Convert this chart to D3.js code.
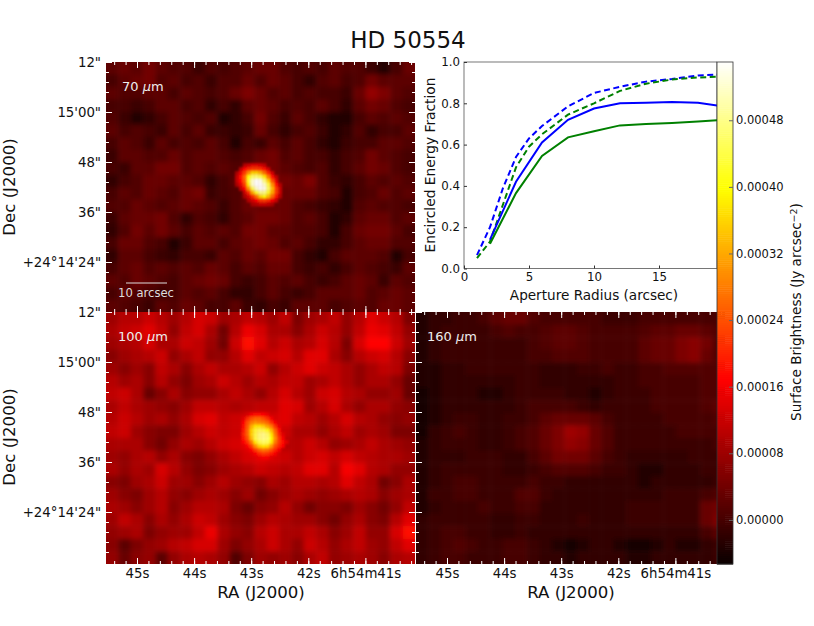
<!DOCTYPE html>
<html>
<head>
<meta charset="utf-8">
<script src="https://d3js.org/d3.v7.min.js"></script>
<style>
  html, body { margin: 0; padding: 0; background: #fff; }
  text { font-family: "DejaVu Sans", sans-serif; fill: #111; }
</style>
</head>
<body>
<svg id="chart" width="814" height="626"></svg>
<script>
// all map values are surface brightness in units of 1e-5 Jy arcsec^-2
const grid70 = [
[2,3,2,4,2,1,1,-1,1,0,1,2,3,3,1,0,1,0,2,1,1,-1,-3,0,3],
[0,2,3,4,1,2,0,1,-1,1,1,3,1,3,2,0,-2,1,2,0,1,4,2,2,2],
[2,1,1,2,2,0,2,1,0,1,3,5,3,1,2,0,1,0,0,-1,3,7,5,2,1],
[0,0,-1,0,2,2,0,1,-2,0,-2,2,3,2,0,1,0,2,0,-2,2,4,3,1,0],
[1,-1,-3,-2,0,2,1,0,1,-3,-2,0,4,1,-1,2,0,-2,-3,-3,0,2,1,2,1],
[2,0,1,0,-1,2,0,2,-1,-1,-2,-1,3,0,-2,0,1,-1,-3,-2,1,-2,0,0,2],
[0,2,1,-1,2,0,1,0,2,0,-3,0,-1,2,0,2,0,-2,-3,-1,0,0,2,2,1],
[-1,2,2,1,1,3,1,2,2,1,0,1,3,4,1,2,0,0,-2,0,1,4,2,1,0],
[0,-1,2,2,4,4,1,2,1,2,1,2,4,4,2,1,0,1,-2,0,2,4,3,1,0],
[-2,0,1,3,3,2,2,1,-2,0,2,3,4,4,4,3,5,1,-1,-2,0,2,1,2,1],
[0,2,1,3,2,1,3,4,-1,0,1,3,3,3,3,3,3,1,0,-3,0,1,3,1,2],
[1,1,3,2,1,2,3,2,1,-1,1,3,3,3,3,1,0,-1,-2,-3,1,2,1,1,0],
[-1,2,3,3,4,1,-2,1,0,-2,1,2,4,4,3,1,2,0,-3,-2,2,3,3,1,2],
[-2,1,4,2,4,2,0,2,1,2,1,4,4,2,2,1,1,0,-3,0,3,4,4,2,0],
[0,3,3,1,0,-3,-1,2,2,0,2,3,4,3,1,2,0,-2,-2,0,2,3,3,1,1],
[-2,2,2,0,-1,-2,0,0,-1,2,1,3,2,4,4,0,-2,-3,0,2,2,2,1,-3,0],
[0,2,3,1,2,1,2,1,3,2,0,2,1,3,3,0,-1,0,-2,0,2,1,0,-1,2],
[2,1,3,2,1,0,2,3,4,3,0,-1,0,2,1,2,0,-1,0,2,3,2,-1,2,1],
[0,2,1,0,-1,0,2,1,2,0,-2,-2,0,2,0,-1,0,2,2,2,3,1,2,3,2],
[2,1,0,-1,2,1,3,2,0,0,2,-1,-2,0,-1,2,2,2,0,1,2,1,3,3,2]
];
const grid100 = [
[8,10,10,12,10,8,10,13,12,8,9,11,10,8,11,5,8,9,11,7,10,14,12,10,5],
[9,11,12,14,11,7,11,13,9,4,10,15,13,9,9,6,9,12,10,7,11,15,14,11,7],
[8,9,10,13,9,9,12,11,8,4,12,18,14,10,12,9,10,13,10,5,13,17,17,12,8],
[6,8,9,10,12,7,9,11,7,7,10,14,11,12,13,10,14,14,9,6,10,12,13,10,6],
[8,6,8,6,11,9,6,9,11,9,9,10,12,7,10,12,14,12,11,9,7,9,11,10,5],
[10,8,9,6,10,7,5,8,9,12,10,8,10,9,11,11,8,9,11,9,7,9,9,7,3],
[11,12,9,3,6,9,6,7,7,9,11,9,7,10,13,10,8,12,13,10,9,7,7,8,3],
[9,11,9,8,7,6,8,11,11,10,9,10,11,11,14,13,8,10,13,9,7,9,9,7,6],
[10,12,10,8,9,7,9,13,14,11,12,13,14,13,14,11,10,8,10,13,10,9,7,6,7],
[11,12,8,6,5,5,8,10,12,11,12,14,15,14,12,9,9,7,9,11,8,9,8,5,5],
[9,9,9,6,4,7,9,8,10,12,13,14,15,14,10,10,12,10,7,8,9,11,9,8,7],
[8,7,9,10,7,9,6,5,7,9,11,13,14,13,12,10,12,13,11,13,11,10,9,9,8],
[9,7,9,8,13,10,7,5,6,8,9,10,12,11,10,11,14,14,10,16,14,10,9,7,7],
[6,5,8,9,12,8,8,6,8,10,8,7,6,9,8,10,10,9,10,14,11,9,4,6,9],
[8,6,5,8,10,7,6,8,9,8,6,8,4,6,8,9,8,7,8,9,10,9,6,8,9],
[9,8,6,8,10,6,8,10,10,9,5,3,6,7,10,7,4,6,6,5,8,6,4,7,11],
[8,11,9,6,9,7,9,12,11,8,6,5,8,10,9,8,8,6,4,7,9,6,5,10,14],
[7,8,9,5,7,8,8,11,15,9,7,6,10,12,9,9,11,9,6,8,11,7,7,13,18],
[6,2,5,7,8,10,11,13,13,8,5,7,9,12,9,7,12,10,7,9,11,8,7,11,14],
[7,3,6,7,2,7,9,10,9,7,1,5,8,7,8,6,9,11,7,8,9,8,6,9,10]
];
const grid160 = [
[-3,-2,-2,-1,-1,0,2,3,3,1,0,0,0,0,0,-1,-1,-1,0,0,0,0,0,0,0],
[-3,-2,-1,-1,-1,-1,0,1,0,0,1,2,2,1,0,0,0,0,1,2,2,3,3,2,1],
[-3,-2,-1,-1,-1,-1,-1,-1,-1,0,1,2,2,1,0,0,0,0,2,3,3,5,6,4,1],
[-3,-2,-1,-1,-1,-1,-1,-1,-1,0,0,1,1,1,0,0,0,0,2,3,3,5,6,3,1],
[-3,-3,-2,-2,-1,-1,-1,-1,-1,-1,-2,-2,-2,-1,-1,0,-1,-1,0,0,1,1,1,1,1],
[-3,-3,-2,-2,-2,-2,-2,-2,-1,-1,-2,-2,-2,-2,-2,-2,-1,-1,0,0,0,0,0,1,1],
[-4,-3,-2,-2,-2,-3,-3,-2,-1,-1,-1,-1,-2,-2,-3,-2,-1,-1,-1,0,0,0,0,1,1],
[-4,-3,-2,-2,-2,-2,-2,-2,-1,0,0,0,0,-1,-2,-1,-1,-1,-1,0,0,0,0,1,2],
[-4,-3,-2,-1,-1,-2,-2,-1,-1,0,2,3,3,3,2,0,-1,-1,-1,-1,0,0,0,0,1],
[-4,-2,-1,0,-1,-2,-2,-1,0,1,3,5,8,7,3,1,-1,-1,-1,-1,-1,0,0,0,0],
[-3,-2,-1,-1,-1,-2,-2,-1,0,1,3,5,7,6,3,1,-1,-1,-1,-1,-1,-1,-1,-1,0],
[-3,-2,-2,-2,-1,-1,-1,-2,-2,0,2,4,4,4,2,0,-1,-2,-2,-2,-2,-2,-1,-1,-1],
[-3,-2,-1,-1,-1,-1,-1,-2,-2,-1,0,1,1,1,0,-1,-1,-2,-3,-3,-2,-2,-2,-1,-1],
[-3,-2,-1,0,0,-1,-1,-1,-1,0,-1,-1,-2,-2,-2,-2,-2,-2,-3,-2,-2,-2,-2,-2,-1],
[-3,-1,-1,0,0,-1,-1,-1,1,1,-1,-2,-2,-2,-2,-2,-2,-2,-2,-2,-1,-1,-1,0,1],
[-3,-2,-1,-1,-1,0,-1,-1,0,0,-2,-2,-2,-2,-2,-2,-2,-1,-1,-1,-1,-1,-1,3,4],
[-2,-1,-1,-1,-1,-1,-2,-2,-1,-1,-2,-2,-2,-1,-2,-2,-2,-1,-1,-1,-1,-1,-1,3,5],
[-2,-1,0,0,-1,-1,-2,-2,-1,-2,-2,-2,-2,-2,-2,-2,-2,-2,-2,-2,-2,-2,-2,0,2],
[-2,-1,0,1,0,-1,-1,0,0,-1,-2,-3,-4,-3,-2,-2,-3,-4,-4,-3,-2,-3,-3,-2,-1],
[-2,-1,0,0,-1,-1,-1,0,0,-1,-2,-2,-3,-2,-2,-2,-2,-3,-3,-2,-2,-2,-2,-2,-1]
];
// the bright source needs finer cells, null = background shows through
const spot70 = [
[null,null,10,12,14,14,13,11,null,null,null,null,null],
[null,11,17,20,22,22,21,18,13,null,null,null,null],
[9,15,22,30,36,36,33,27,20,13,null,null,null],
[11,18,26,40,46,47,45,38,28,18,11,null,null],
[11,17,25,42,52,55,54,47,36,24,14,null,null],
[9,14,22,38,52,56,56,52,44,30,18,10,null],
[null,11,17,30,44,52,56,54,46,34,22,12,null],
[null,null,12,20,32,42,48,48,42,32,22,12,null],
[null,null,9,13,20,27,36,40,34,26,18,10,null],
[null,null,null,10,13,17,21,22,20,16,12,null,null],
[null,null,null,null,9,10,12,12,11,9,null,null,null]
];
const spot100 = [
[null,13,16,18,18,17,15,null,null,null,null,null],
[14,20,24,26,26,24,21,16,null,null,null,null],
[17,24,28,30,29,28,26,21,16,null,null,null],
[18,25,33,38,38,36,32,28,21,15,null,null],
[19,26,36,43,45,44,41,34,26,18,null,null],
[20,26,36,44,47,48,46,38,28,20,14,null],
[19,24,34,44,47,48,47,40,30,22,16,null],
[17,21,28,38,44,46,45,38,28,22,18,14],
[14,17,22,30,36,38,37,31,24,20,17,null],
[null,14,17,22,26,28,27,24,20,16,null,null],
[null,null,14,16,20,22,21,19,16,null,null,null],
[null,null,null,null,15,16,16,14,null,null,null,null]
];

// encircled energy curves
const radiusDashed = [1,2,3,4,5,6,8,10,12,14,16,18,20];
const radiusSolid = [2,4,6,8,10,12,14,16,18,20];
const blueDashed = [0.065,0.20,0.39,0.54,0.63,0.69,0.785,0.85,0.88,0.905,0.918,0.935,0.94];
const greenDashed = [0.05,0.13,0.31,0.49,0.59,0.65,0.745,0.80,0.86,0.895,0.915,0.925,0.93];
const blueSolid = [0.14,0.42,0.61,0.72,0.775,0.80,0.803,0.806,0.803,0.785];
const greenSolid = [0.12,0.365,0.545,0.635,0.665,0.693,0.70,0.705,0.712,0.72];

const raTicks = [45,44,43,42,41];
const raLabels = ["45s","44s","43s","42s","6h54m41s"];
const decTicks = [912,900,888,876,864];
const decLabels = ["12\"","15'00\"","48\"","36\"","+24°14'24\""];
const cbarTicks = [0,8,16,24,32,40,48];
const cbarLabels = ["0.00000","0.00008","0.00016","0.00024","0.00032","0.00040","0.00048"];

const svg = d3.select("#chart");
const defs = svg.append("defs");

const vMin = -5.3, vMax = 55;
// matplotlib "hot"
const hot = d3.scaleLinear()
  .domain([0, 0.365, 0.746, 1])
  .range(["#0b0000", "#ff0000", "#ffff00", "#ffffff"])
  .clamp(true);
const color = v => hot((v - vMin) / (vMax - vMin));

function addBlur(id, sd) {
  defs.append("filter").attr("id", id)
    .attr("filterUnits", "userSpaceOnUse")
    .attr("x", 0).attr("y", 0).attr("width", 814).attr("height", 626)
    .append("feGaussianBlur").attr("stdDeviation", sd);
}
addBlur("blurMap", 2.6);
addBlur("blurCoarse", 2.8);
addBlur("blurSpot", 1.3);

function drawMap(opt) {
  const x0 = opt.x, y0 = opt.y, w = 309, h = opt.h;
  const clipId = "clip" + opt.id;
  defs.append("clipPath").attr("id", clipId)
    .append("rect").attr("x", x0).attr("y", y0).attr("width", w).attr("height", h);
  const g = svg.append("g").attr("clip-path", `url(#${clipId})`);

  const nRows = opt.grid.length, nCols = opt.grid[0].length;
  const cx = d3.scaleLinear().domain([0, nCols]).range([x0, x0 + w]);
  const cy = d3.scaleLinear().domain([0, nRows]).range([y0, y0 + h]);
  const cells = opt.grid.flatMap((row, r) => row.map((v, c) => ({r, c, v})));
  // edge cells run a little past the clip so the blur does not fade at the border
  g.append("g").attr("filter", `url(#${opt.blur})`)
    .selectAll("rect").data(cells).join("rect")
    .attr("x", d => cx(d.c) - (d.c == 0 ? 12 : 0))
    .attr("y", d => cy(d.r) - (d.r == 0 ? 12 : 0))
    .attr("width", d => cx(1) - cx(0) + 0.5 + (d.c == 0 || d.c == nCols - 1 ? 12 : 0))
    .attr("height", d => cy(1) - cy(0) + 0.5 + (d.r == 0 || d.r == nRows - 1 ? 12 : 0))
    .attr("fill", d => color(d.v));

  if (opt.spot) {
    const sx = d3.scaleLinear().domain([0, 1]).range([opt.spotX, opt.spotX + 3.9]);
    const sy = d3.scaleLinear().domain([0, 1]).range([opt.spotY, opt.spotY + 3.9]);
    const sc = opt.spot.flatMap((row, r) => row.map((v, c) => ({r, c, v}))).filter(d => d.v !== null);
    g.append("g").attr("filter", "url(#blurSpot)")
      .selectAll("rect").data(sc).join("rect")
      .attr("x", d => sx(d.c)).attr("y", d => sy(d.r))
      .attr("width", 4.1).attr("height", 4.1)
      .attr("fill", d => color(d.v));
  }

  // inward white ticks on all sides
  const xs = d3.scaleLinear().domain([45 + (137 - 106) / 57.1, 45 - (415 - 137) / 57.1]).range([x0, x0 + w]);
  const ys = d3.scaleLinear().domain([912, 852]).range([y0, y0 + 250]);
  const xMinor = d3.range(40.2, 45.5, 0.2);
  const yMinor = d3.range(854.4, 912, 2.4);
  const tickG = svg.append("g").attr("class", "ticks");
  function ax(gen, major, minor, tr) {
    const a = tickG.append("g").attr("transform", tr).call(gen(minor).tickSize(-3).tickFormat(""));
    const b = tickG.append("g").attr("transform", tr).call(gen(major).tickSize(-6).tickFormat(""));
    a.select(".domain").remove(); b.select(".domain").remove();
  }
  ax(t => d3.axisBottom(xs).tickValues(t), raTicks, xMinor, `translate(0,${y0 + h})`);
  ax(t => d3.axisTop(xs).tickValues(t), raTicks, xMinor, `translate(0,${y0})`);
  ax(t => d3.axisLeft(ys).tickValues(t), decTicks, yMinor, `translate(${x0},0)`);
  if (!opt.noRight)
    ax(t => d3.axisRight(ys).tickValues(t), decTicks, yMinor, `translate(${x0 + w},0)`);
  tickG.selectAll("line").attr("stroke", "#fff").attr("stroke-width", 1);

  if (opt.decLabels) {
    const ga = svg.append("g").attr("transform", `translate(${x0 - 2},0)`)
      .call(d3.axisLeft(ys).tickValues(decTicks).tickSize(0)
        .tickFormat((d, i) => decLabels[i]));
    ga.select(".domain").remove();
    ga.selectAll("text").style("font-size", "13.3px").style("font-family", '"DejaVu Sans"').attr("fill", "#111");
    svg.append("text").attr("transform", `translate(15,${y0 + 125}) rotate(-90)`)
      .attr("text-anchor", "middle").style("font-size", "16.6px").text("Dec (J2000)");
  }
  if (opt.raLabels) {
    const ga = svg.append("g").attr("transform", `translate(0,${y0 + h + 2})`)
      .call(d3.axisBottom(xs).tickValues(raTicks).tickSize(0)
        .tickFormat((d, i) => raLabels[i]));
    ga.select(".domain").remove();
    ga.selectAll("text").style("font-size", "13.3px").style("font-family", '"DejaVu Sans"').attr("fill", "#111");
    svg.append("text").attr("x", x0 + 155).attr("y", 598)
      .attr("text-anchor", "middle").style("font-size", "16.6px").text("RA (J2000)");
  }

  const lab = svg.append("text").attr("x", opt.labelX).attr("y", opt.labelY)
    .style("font-size", "13px").style("fill", "#eee");
  lab.append("tspan").text(opt.label + " ");
  lab.append("tspan").style("font-style", "italic").text("\u00b5");
  lab.append("tspan").text("m");
}

drawMap({id: "a", x: 106, y: 62, h: 250, grid: grid70, blur: "blurMap", spot: spot70, spotX: 235, spotY: 163.3,
  decLabels: true, label: "70", labelX: 122, labelY: 91});
drawMap({id: "b", x: 106, y: 312, h: 252, grid: grid100, blur: "blurMap", spot: spot100, spotX: 241.7, spotY: 412.7,
  decLabels: true, raLabels: true, label: "100", labelX: 118, labelY: 341});
drawMap({id: "c", x: 416, y: 312, h: 252, grid: grid160, blur: "blurCoarse",
  raLabels: true, noRight: true, label: "160", labelX: 427, labelY: 341});

// scale bar on the 70 micron map
svg.append("line").attr("x1", 126).attr("x2", 167).attr("y1", 283).attr("y2", 283)
  .attr("stroke", "#ddd").attr("stroke-width", 1);
svg.append("text").attr("x", 146).attr("y", 297).attr("text-anchor", "middle")
  .style("font-size", "11.6px").style("fill", "#ddd").text("10 arcsec");

// encircled energy inset
const inset = svg.append("g");
inset.append("rect").attr("x", 415).attr("y", 60).attr("width", 302).attr("height", 252).attr("fill", "#fff");
const ex = d3.scaleLinear().domain([0, 20]).range([464, 724]);
const ey = d3.scaleLinear().domain([0, 1]).range([268.5, 62]);
defs.append("clipPath").attr("id", "clipInset").append("rect")
  .attr("x", 464).attr("y", 62).attr("width", 253).attr("height", 207);
inset.append("rect").attr("x", 464).attr("y", 62).attr("width", 253).attr("height", 206.5)
  .attr("fill", "none").attr("stroke", "#555").attr("stroke-width", 0.8);
const line = d3.line().x(d => ex(d[0])).y(d => ey(d[1]));
const curves = [
  {r: radiusDashed, v: blueDashed, c: "#0000ff", dash: "6 3.5"},
  {r: radiusDashed, v: greenDashed, c: "#008000", dash: "6 3.5"},
  {r: radiusSolid, v: blueSolid, c: "#0000ff", dash: null},
  {r: radiusSolid, v: greenSolid, c: "#008000", dash: null}
];
inset.append("g").attr("clip-path", "url(#clipInset)")
  .selectAll("path").data(curves).join("path")
  .attr("d", d => line(d.r.map((r, i) => [r, d.v[i]])))
  .attr("fill", "none").attr("stroke", d => d.c).attr("stroke-width", 2)
  .attr("stroke-dasharray", d => d.dash);
const exAxis = inset.append("g").attr("transform", "translate(0,268.5)")
  .call(d3.axisBottom(ex).tickValues([0,5,10,15]).tickSize(-3).tickPadding(4).tickFormat(d3.format("d")));
const eyAxis = inset.append("g").attr("transform", "translate(464,0)")
  .call(d3.axisLeft(ey).tickValues([0,0.2,0.4,0.6,0.8,1]).tickSize(-3).tickPadding(4).tickFormat(d3.format(".1f")));
[exAxis, eyAxis].forEach(a => {
  a.select(".domain").remove();
  a.selectAll("line").attr("stroke", "#333");
  a.selectAll("text").style("font-size", "11.8px").style("font-family", '"DejaVu Sans"').attr("fill", "#111");
});
inset.append("text").attr("x", 594).attr("y", 300).attr("text-anchor", "middle")
  .style("font-size", "13.6px").text("Aperture Radius (arcsec)");
inset.append("text").attr("transform", "translate(435,165) rotate(-90)").attr("text-anchor", "middle")
  .style("font-size", "13.8px").text("Encircled Energy Fraction");

// colorbar
const cy = d3.scaleLinear().domain([vMin, vMax]).range([564, 62]);
const cbarSteps = d3.range(vMin, vMax, 0.25);
svg.append("g").selectAll("rect").data(cbarSteps).join("rect")
  .attr("x", 717).attr("width", 16)
  .attr("y", d => cy(d + 0.25)).attr("height", d => cy(d) - cy(d + 0.25) + 0.5)
  .attr("fill", d => color(d));
svg.append("rect").attr("x", 717).attr("y", 62).attr("width", 16).attr("height", 502)
  .attr("fill", "none").attr("stroke", "#333").attr("stroke-width", 0.8);
const cAxis = svg.append("g").attr("transform", "translate(733,0)")
  .call(d3.axisRight(cy).tickValues(cbarTicks).tickSize(-4).tickPadding(3)
    .tickFormat((d, i) => cbarLabels[i]));
cAxis.select(".domain").remove();
cAxis.selectAll("line").attr("stroke", "#666");
cAxis.selectAll("text").style("font-size", "11.5px").style("font-family", '"DejaVu Sans"').attr("fill", "#111");
const cLab = svg.append("text").attr("transform", "translate(801,312) rotate(-90)")
  .attr("text-anchor", "middle").style("font-size", "13.6px");
cLab.append("tspan").text("Surface Brightness (Jy arcsec");
cLab.append("tspan").attr("dy", -4).style("font-size", "9.5px").text("\u22122");
cLab.append("tspan").attr("dy", 4).text(")");

svg.append("text").attr("x", 408).attr("y", 48).attr("text-anchor", "middle")
  .style("font-size", "23px").text("HD 50554");
</script>
</body>
</html>
